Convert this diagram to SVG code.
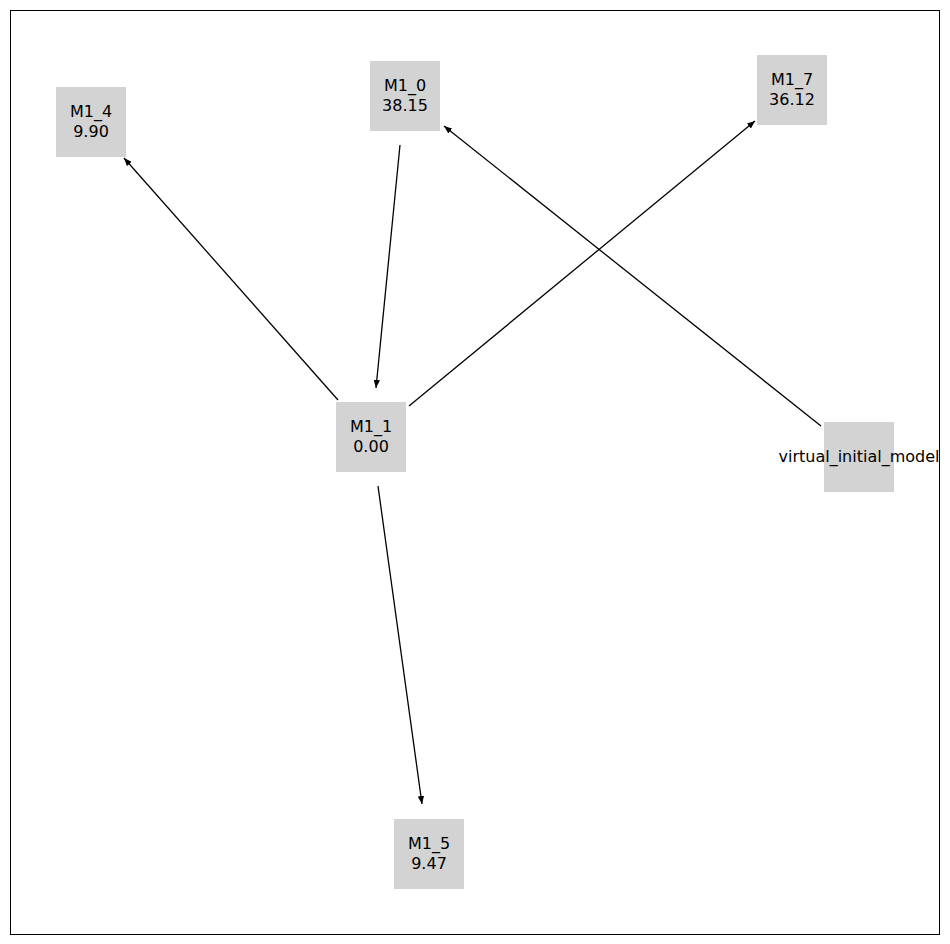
<svg xmlns="http://www.w3.org/2000/svg" width="950" height="944" viewBox="0 0 950 944">
<style>
.n{fill:#d3d3d3}
.t{font-family:"DejaVu Sans",sans-serif;font-size:16px;fill:#000;text-anchor:middle}
.e{stroke:#000;stroke-width:1.3;fill:none;marker-end:url(#a)}
</style>
<defs><marker id="a" viewBox="0 0 10 8" refX="10" refY="4" markerWidth="8" markerHeight="6.4" markerUnits="userSpaceOnUse" orient="auto"><path d="M0,0L10,4L0,8z" fill="#000"/></marker></defs>
<rect width="950" height="944" fill="#fff"/>
<rect x="10.5" y="10.5" width="929" height="924" fill="none" stroke="#000" stroke-width="1"/>
<g id="connectors">
<line class="e" x1="338" y1="400" x2="124" y2="158"/>
<line class="e" x1="400" y1="145" x2="376" y2="388"/>
<line class="e" x1="409" y1="406" x2="755" y2="121"/>
<line class="e" x1="821" y1="426" x2="444" y2="126"/>
<line class="e" x1="378" y1="486" x2="422" y2="804"/>
</g>
<g id="M1_4"><rect class="n" x="56" y="87" width="70" height="70"/><text class="t" x="91" y="117">M1_4</text><text class="t" x="91" y="137">9.90</text></g>
<g id="M1_0"><rect class="n" x="370" y="61" width="70" height="70"/><text class="t" x="405" y="91">M1_0</text><text class="t" x="405" y="111">38.15</text></g>
<g id="M1_7"><rect class="n" x="757" y="55" width="70" height="70"/><text class="t" x="792" y="85">M1_7</text><text class="t" x="792" y="105">36.12</text></g>
<g id="M1_1"><rect class="n" x="336" y="402" width="70" height="70"/><text class="t" x="371" y="432">M1_1</text><text class="t" x="371" y="452">0.00</text></g>
<g id="virtual_initial_model"><rect class="n" x="824" y="422" width="70" height="70"/><text class="t" x="859" y="462">virtual_initial_model</text></g>
<g id="M1_5"><rect class="n" x="394" y="819" width="70" height="70"/><text class="t" x="429" y="849">M1_5</text><text class="t" x="429" y="869">9.47</text></g>
</svg>
